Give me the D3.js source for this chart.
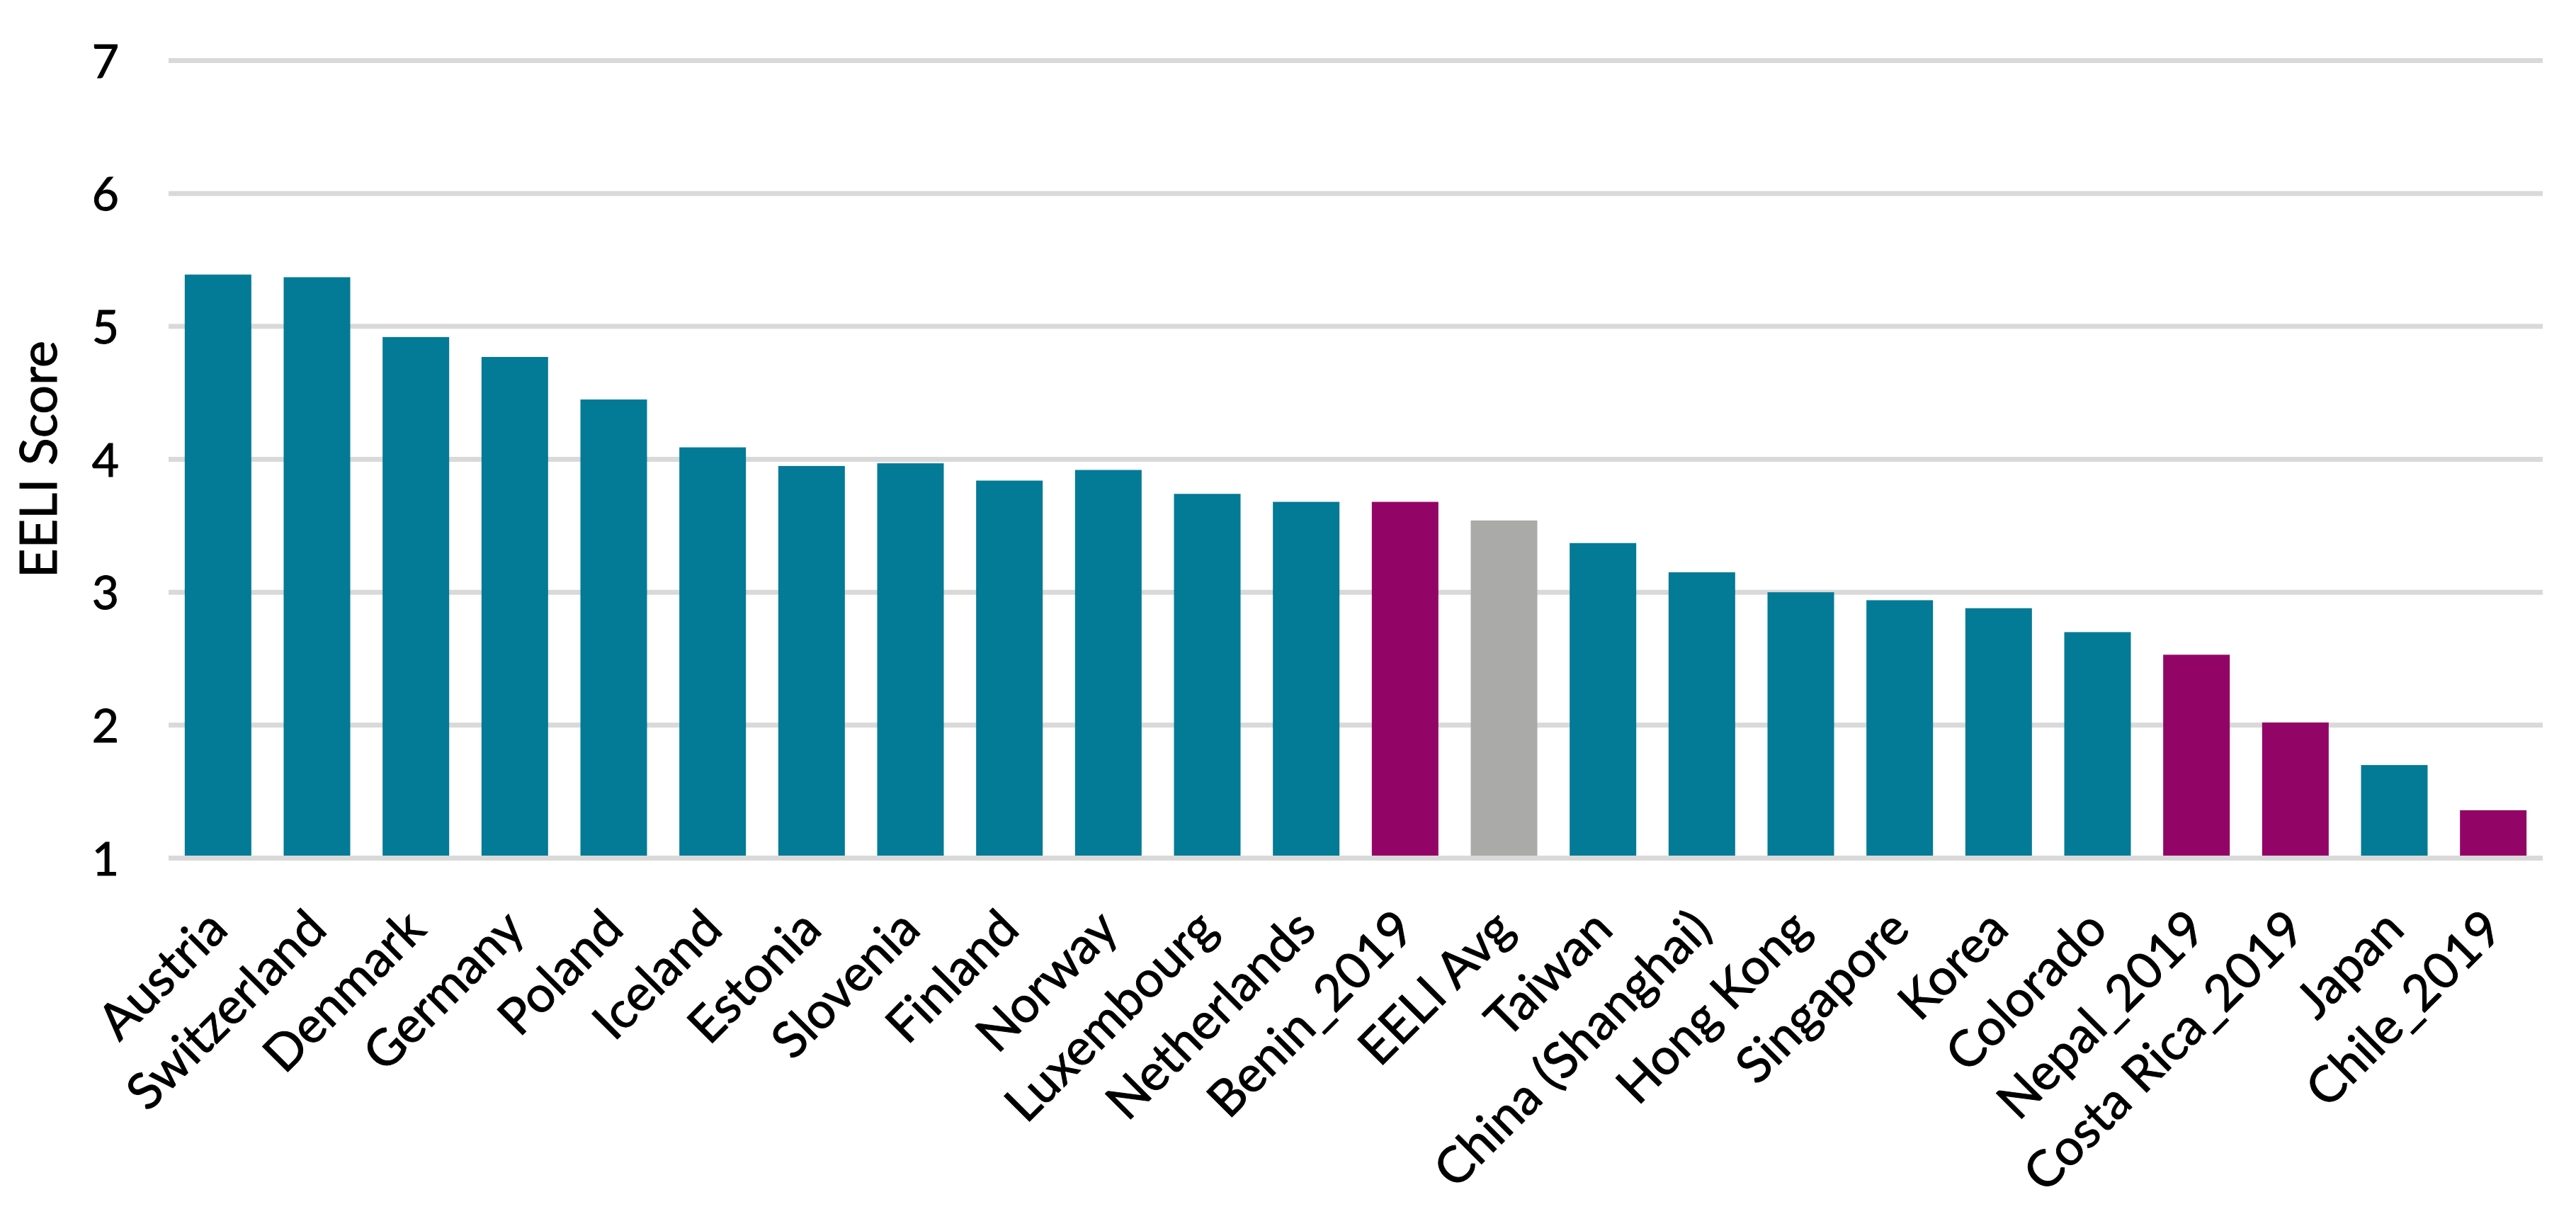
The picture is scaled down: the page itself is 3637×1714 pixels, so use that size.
<!DOCTYPE html>
<html>
<head>
<meta charset="utf-8">
<script src="https://cdn.jsdelivr.net/npm/d3@7"></script>
<style>
	body { margin: 0; background: #fff; }
	text { font-family: Lato, "Open Sans", sans-serif; fill: #000; stroke: #000; stroke-width: 1px; }
</style>
</head>
<body>
<svg id="chart" width="3637" height="1714"></svg>
<script>
var categories = ["Austria", "Switzerland", "Denmark", "Germany", "Poland", "Iceland", "Estonia", "Slovenia",
	"Finland", "Norway", "Luxembourg", "Netherlands", "Benin_2019", "EELI Avg", "Taiwan", "China (Shanghai)",
	"Hong Kong", "Singapore", "Korea", "Colorado", "Nepal_2019", "Costa Rica_2019", "Japan", "Chile_2019"];
var scores = [5.39, 5.37, 4.92, 4.77, 4.45, 4.09, 3.95, 3.97,
	3.84, 3.92, 3.74, 3.68, 3.68, 3.54, 3.37, 3.15,
	3.00, 2.94, 2.88, 2.70, 2.53, 2.02, 1.70, 1.36];
// which colour each bar gets
var groups = ["oecd", "oecd", "oecd", "oecd", "oecd", "oecd", "oecd", "oecd",
	"oecd", "oecd", "oecd", "oecd", "new", "avg", "oecd", "oecd",
	"oecd", "oecd", "oecd", "oecd", "new", "new", "oecd", "new"];
var yTicks = [1, 2, 3, 4, 5, 6, 7];
var yTitle = "EELI Score";

var svg = d3.select("svg#chart"),
	margin = {top: 85.5, right: 47, bottom: 502.5, left: 238},
	width = +svg.attr("width") - margin.left - margin.right,
	height = +svg.attr("height") - margin.top - margin.bottom;

var g = svg.append("g").attr("transform", "translate(" + margin.left + "," + margin.top + ")");

var color = d3.scaleOrdinal()
	.domain(["oecd", "new", "avg"])
	.range(["#037a96", "#920567", "#aaaaa9"]);

var x = d3.scaleBand()
	.domain(categories)
	.range([0, width])
	.paddingInner(0.327)
	.paddingOuter(0.1635);

var y = d3.scaleLinear()
	.domain([1, 7])
	.range([height, 0]);

// gridlines (behind the bars)
g.append("g")
	.attr("class", "grid")
	.selectAll("line")
	.data(yTicks.filter(function(d) { return d !== 1; }))
	.enter().append("line")
	.attr("x1", 0)
	.attr("x2", width)
	.attr("y1", function(d) { return y(d); })
	.attr("y2", function(d) { return y(d); })
	.attr("stroke", "#d9d9d9")
	.attr("stroke-width", 7);

g.append("g")
	.selectAll("rect")
	.data(scores)
	.enter().append("rect")
	.attr("x", function(d, i) { return x(categories[i]); })
	.attr("width", x.bandwidth())
	.attr("y", function(d) { return y(d); })
	.attr("height", function(d) { return y(1) - y(d); })
	.attr("fill", function(d, i) { return color(groups[i]); });

// base line drawn over the bar feet
g.append("line")
	.attr("x1", 0)
	.attr("x2", width)
	.attr("y1", y(1))
	.attr("y2", y(1))
	.attr("stroke", "#d9d9d9")
	.attr("stroke-width", 7);

// y axis labels
var yAxis = g.append("g")
	.attr("class", "axis axis--y")
	.call(d3.axisLeft(y).tickValues(yTicks).tickSize(0).tickPadding(70).tickFormat(d3.format("d")));
yAxis.select(".domain").remove();
yAxis.selectAll("text")
	.style("font-size", "66px")
	.style("font-family", "Lato, 'Open Sans', sans-serif")
	.attr("dy", "0.36em");

// x axis labels, rotated
var xAxis = g.append("g")
	.attr("class", "axis axis--x")
	.attr("transform", "translate(0," + height + ")")
	.call(d3.axisBottom(x).tickSize(0));
xAxis.select(".domain").remove();
xAxis.selectAll("text")
	.style("font-size", "71px")
	.style("font-family", "Lato, 'Open Sans', sans-serif")
	.style("text-anchor", "end")
	.attr("dy", null)
	.attr("y", null)
	.attr("transform", "translate(17,104) rotate(-45)");

svg.append("text")
	.attr("transform", "translate(" + 80 + "," + (margin.top + height / 2) + ") rotate(-90)")
	.attr("text-anchor", "middle")
	.style("font-size", "72px")
	.text(yTitle);
</script>
</body>
</html>
